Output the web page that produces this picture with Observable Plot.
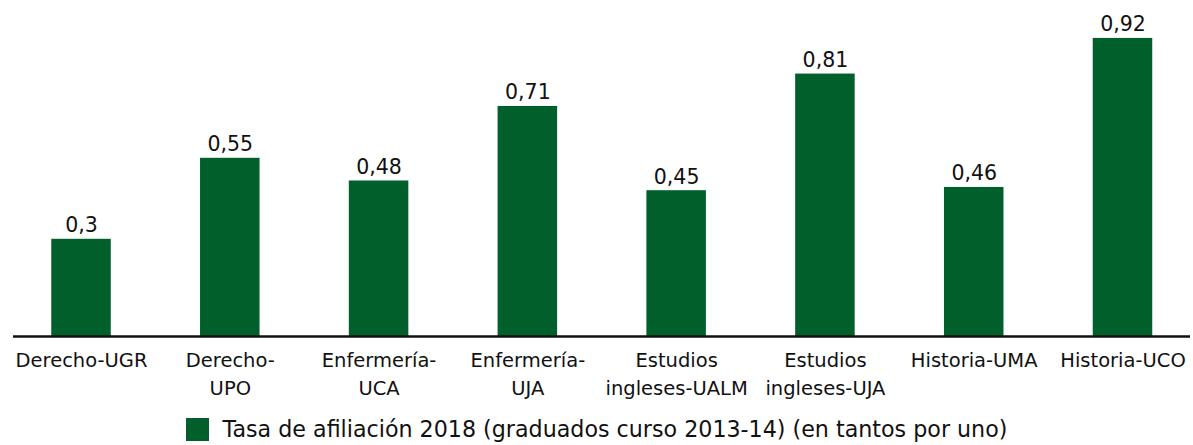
<!DOCTYPE html>
<html>
<head>
<meta charset="utf-8">
<script src="https://cdn.jsdelivr.net/npm/d3@7"></script>
<script src="https://cdn.jsdelivr.net/npm/@observablehq/plot@0.6"></script>
<style>
  html, body { margin: 0; padding: 0; background: #fff; }
  body { width: 1193px; height: 445px; overflow: hidden; font-family: "DejaVu Sans", sans-serif; }
  #legend { height: 35px; padding-top: 3px; box-sizing: border-box; display: flex; align-items: center; justify-content: center; gap: 14px; font-size: 22.2px; color: #111; }
  #legend .sw { width: 23px; height: 23px; }
</style>
</head>
<body>
<div id="chart"></div>
<div id="legend"></div>
<script>
const categories = ["Derecho-UGR", "Derecho-UPO", "Enfermería-UCA", "Enfermería-UJA", "Estudios ingleses-UALM", "Estudios ingleses-UJA", "Historia-UMA", "Historia-UCO"];
const tickLabels = ["Derecho-UGR", "Derecho-\nUPO", "Enfermería-\nUCA", "Enfermería-\nUJA", "Estudios\ningleses-UALM", "Estudios\ningleses-UJA", "Historia-UMA", "Historia-UCO"];
const values = [0.3, 0.55, 0.48, 0.71, 0.45, 0.81, 0.46, 0.92];
const valueLabels = ["0,3", "0,55", "0,48", "0,71", "0,45", "0,81", "0,46", "0,92"];
const seriesName = "Tasa de afiliación 2018 (graduados curso 2013-14) (en tantos por uno)";
const barColor = "#005f2b";

const data = categories.map((c, i) => ({cat: c, value: values[i], label: valueLabels[i]}));
const tickMap = new Map(categories.map((c, i) => [c, tickLabels[i]]));

const chart = Plot.plot({
  width: 1193,
  height: 410,
  marginLeft: 13,
  marginRight: 3,
  marginTop: 0,
  marginBottom: 74,
  style: {fontFamily: "DejaVu Sans, sans-serif", color: "#111", background: "#fff"},
  x: {domain: categories, range: [21.5, 1182], paddingInner: 0.6, paddingOuter: 0.2, round: false, axis: null},
  y: {domain: [0, 1], range: [336, 12], axis: null},
  marks: [
    Plot.barY(data, {x: "cat", y: "value", fill: barColor}),
    Plot.ruleY([0], {stroke: "#111", strokeWidth: 2.5}),
    Plot.text(data, {x: "cat", y: "value", text: "label", lineAnchor: "bottom", dy: -7, fontSize: 20.5, fill: "#111"}),
    Plot.axisX({tickSize: 0, tickPadding: 10, fontSize: 19.5, lineHeight: 1.45, tickFormat: d => tickMap.get(d), label: null, fill: "#111"})
  ]
});
document.getElementById("chart").appendChild(chart);

const legend = document.getElementById("legend");
const sw = document.createElement("div");
sw.className = "sw";
sw.style.background = barColor;
const txt = document.createElement("span");
txt.textContent = seriesName;
legend.appendChild(sw);
legend.appendChild(txt);
</script>
</body>
</html>
